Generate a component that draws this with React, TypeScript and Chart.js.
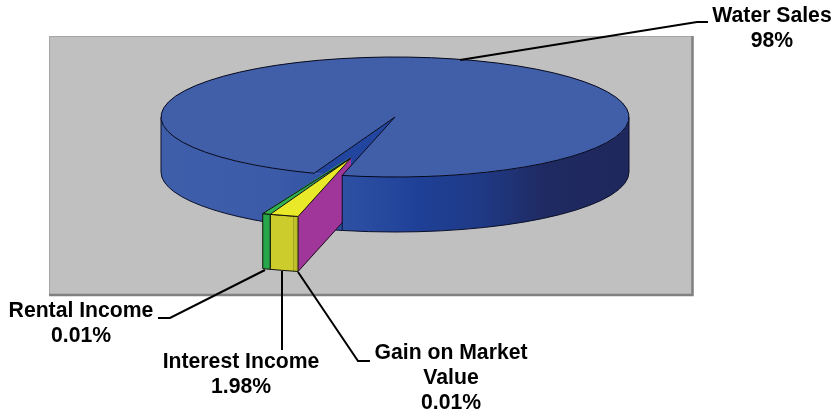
import React, { useEffect, useRef } from "react";
import { Chart, registerables } from "chart.js";

Chart.register(...registerables);

// Data (clockwise from the left edge of the exploded wedge)
const categories = ["Rental Income", "Water Sales", "Gain on Market Value", "Interest Income"];
const shares = [0.01, 98, 0.01, 1.98];
const topColors = ["#2fb24f", "#415fa9", "#a0359a", "#e9e92a"];
const sliceBorders = [1, 0, 2, 0];

// Callout text
const calloutLines = [
  { x: 772, y: 16, text: "Water Sales" },
  { x: 772, y: 41, text: "98%" },
  { x: 81, y: 311, text: "Rental Income" },
  { x: 81, y: 336, text: "0.01%" },
  { x: 241, y: 362, text: "Interest Income" },
  { x: 241, y: 387, text: "1.98%" },
  { x: 451, y: 353, text: "Gain on Market" },
  { x: 451, y: 378, text: "Value" },
  { x: 451, y: 403, text: "0.01%" },
];
const leaders = [
  [[460, 60], [697, 22], [708, 22]],
  [[265, 270], [170, 318], [158, 318]],
  [[282, 271], [282, 350]],
  [[298, 272], [358, 361], [370, 361]],
];

const ROTATION = 200.2;
const RADIUS = 234;
const SQUASH = 60 / 234;
const DEPTH = 55;
const EXPLODE_X = -44;
const EXPLODE_Y = 160;
const RENTAL_BAND = 8 / 234;
const DETACHED = [0, 2, 3];

const pie3d = {
  id: "pie3d",
  afterDatasetsUpdate(chart: any) {
    const data = chart.getDatasetMeta(0).data;
    DETACHED.forEach((i) => {
      data[i].x += EXPLODE_X;
      data[i].y += EXPLODE_Y;
    });
  },
  beforeDatasetsDraw(chart: any) {
    const ctx: CanvasRenderingContext2D = chart.ctx;
    const arcs = chart.getDatasetMeta(0).data;
    const [rental, water, gain, interest] = arcs;
    const cx = water.x;
    const cy = water.y;
    const rx = water.outerRadius;
    const ry = rx * SQUASH;
    const sy = (y: number) => cy + (y - cy) * SQUASH;
    const rim = (el: any, a: number) => ({
      x: el.x + el.outerRadius * Math.cos(a),
      y: sy(el.y + el.outerRadius * Math.sin(a)),
    });

    // Plot background
    ctx.save();
    ctx.fillStyle = "#c0c0c0";
    ctx.fillRect(49, 36, 644, 259);
    ctx.strokeStyle = "#a6a6a6";
    ctx.lineWidth = 1;
    ctx.beginPath();
    ctx.moveTo(49.5, 295);
    ctx.lineTo(49.5, 36.5);
    ctx.lineTo(693, 36.5);
    ctx.stroke();
    ctx.strokeStyle = "#808080";
    ctx.lineWidth = 2.5;
    ctx.beginPath();
    ctx.moveTo(692.5, 36);
    ctx.lineTo(692.5, 295);
    ctx.lineTo(49, 295);
    ctx.stroke();

    const grad = ctx.createLinearGradient(161, 0, 629, 0);
    grad.addColorStop(0, "#3f5eaa");
    grad.addColorStop(0.25, "#3b5aa8");
    grad.addColorStop(0.42, "#2b4ea2");
    grad.addColorStop(0.55, "#1f4097");
    grad.addColorStop(0.68, "#1f3a86");
    grad.addColorStop(0.82, "#1f2a62");
    grad.addColorStop(1, "#1f285c");

    const wall = (a1: number, a2: number, fill: any) => {
      ctx.beginPath();
      ctx.ellipse(cx, cy, rx, ry, 0, a1, a2);
      ctx.ellipse(cx, cy + DEPTH, rx, ry, 0, a2, a1, true);
      ctx.closePath();
      ctx.fillStyle = fill;
      ctx.fill();
      ctx.strokeStyle = "#0a0f2a";
      ctx.lineWidth = 1;
      ctx.beginPath();
      ctx.ellipse(cx, cy + DEPTH, rx, ry, 0, a1, a2);
      ctx.stroke();
    };

    const leftA = water.startAngle;
    const rightA = water.endAngle - Math.PI * 2;
    const pL = rim(water, leftA);
    const pR = rim(water, rightA);

    // Left part of the outer wall, also backing the gap (sits behind the wedge)
    wall(rightA, Math.PI, grad);

    // Gap in the pie (seen as the darker wedge)
    ctx.fillStyle = "#22469f";
    ctx.beginPath();
    ctx.moveTo(cx, cy);
    ctx.lineTo(pL.x, pL.y);
    ctx.lineTo(pR.x, pR.y);
    ctx.closePath();
    ctx.fill();
    ctx.beginPath();
    ctx.moveTo(cx, cy);
    ctx.lineTo(pR.x, pR.y);
    ctx.lineTo(pR.x, pR.y + DEPTH);
    ctx.lineTo(cx, cy + DEPTH);
    ctx.closePath();
    ctx.fill();

    // Exploded wedge: magenta cut face
    const tipX = gain.x;
    const tipY = sy(gain.y);
    const g = rim(gain, gain.endAngle);
    ctx.fillStyle = "#a0359a";
    ctx.strokeStyle = "#1a0a1a";
    ctx.lineWidth = 1;
    ctx.beginPath();
    ctx.moveTo(tipX, tipY);
    ctx.lineTo(g.x, g.y);
    ctx.lineTo(g.x, g.y + DEPTH);
    ctx.lineTo(tipX, tipY + DEPTH);
    ctx.closePath();
    ctx.fill();
    ctx.beginPath();
    ctx.moveTo(g.x, g.y + DEPTH);
    ctx.lineTo(tipX, tipY + DEPTH);
    ctx.stroke();

    // Exploded wedge: front faces
    const front = (el: any, a1: number, a2: number, fill: any) => {
      ctx.beginPath();
      ctx.ellipse(el.x, sy(el.y), rx, ry, 0, a1, a2);
      ctx.ellipse(el.x, sy(el.y) + DEPTH, rx, ry, 0, a2, a1, true);
      ctx.closePath();
      ctx.fillStyle = fill;
      ctx.fill();
      ctx.strokeStyle = "#14140a";
      ctx.lineWidth = 1;
      ctx.stroke();
    };
    const yr = rim(interest, interest.startAngle);
    const yl = rim(interest, interest.endAngle);
    const yGrad = ctx.createLinearGradient(yl.x, 0, yr.x, 0);
    yGrad.addColorStop(0, "#cccc2c");
    yGrad.addColorStop(0.8, "#cccc2c");
    yGrad.addColorStop(0.82, "#8f8f20");
    yGrad.addColorStop(0.86, "#c4c42a");
    yGrad.addColorStop(1, "#b4b428");
    front(interest, interest.startAngle, interest.endAngle, yGrad);
    front(rental, rental.startAngle, rental.startAngle + RENTAL_BAND, "#27a74a");

    // Green top strip of the rental slice
    const rA = rim(rental, rental.startAngle);
    const rB = rim(rental, rental.startAngle + RENTAL_BAND);
    ctx.fillStyle = topColors[0];
    ctx.beginPath();
    ctx.moveTo(rental.x - 1, sy(rental.y) - 1);
    ctx.lineTo(rA.x, rA.y);
    ctx.lineTo(rB.x, rB.y);
    ctx.closePath();
    ctx.fill();

    // Right part of the outer wall (in front of the wedge's inner end)
    wall(0, rightA, grad);
    ctx.strokeStyle = "#0a0f2a";
    ctx.lineWidth = 1;
    ctx.beginPath();
    ctx.moveTo(cx + rx, cy);
    ctx.lineTo(cx + rx, cy + DEPTH);
    ctx.moveTo(cx - rx, cy);
    ctx.lineTo(cx - rx, cy + DEPTH);
    ctx.moveTo(pR.x, pR.y);
    ctx.lineTo(pR.x, pR.y + DEPTH);
    ctx.stroke();
    ctx.restore();

    // Library arcs are squashed into the tilted plane
    ctx.save();
    ctx.translate(0, cy);
    ctx.scale(1, SQUASH);
    ctx.translate(0, -cy);
  },
  afterDatasetsDraw(chart: any) {
    const ctx: CanvasRenderingContext2D = chart.ctx;
    ctx.restore();
    const arcs = chart.getDatasetMeta(0).data;
    const [rental, water, , interest] = arcs;
    const cx = water.x;
    const cy = water.y;
    const rx = water.outerRadius;
    const ry = rx * SQUASH;
    const sy = (y: number) => cy + (y - cy) * SQUASH;

    ctx.save();
    ctx.lineWidth = 1;
    ctx.strokeStyle = "#05081c";
    // Water top outline
    ctx.beginPath();
    ctx.ellipse(cx, cy, rx, ry, 0, water.startAngle, water.endAngle);
    ctx.lineTo(cx, cy);
    ctx.closePath();
    ctx.stroke();
    // Wedge top outline
    const edge = (el: any, a: number) => ({
      x: el.x + rx * Math.cos(a),
      y: sy(el.y) + ry * Math.sin(a),
    });
    const a = edge(rental, rental.startAngle + RENTAL_BAND);
    const b = edge(interest, interest.endAngle);
    const c = edge(interest, interest.startAngle);
    ctx.strokeStyle = "#14140a";
    ctx.beginPath();
    ctx.moveTo(rental.x, sy(rental.y));
    ctx.lineTo(a.x, a.y);
    ctx.lineTo(b.x, b.y);
    ctx.lineTo(c.x, c.y);
    ctx.lineTo(interest.x, sy(interest.y));
    ctx.closePath();
    ctx.moveTo(b.x, b.y);
    ctx.lineTo(interest.x, sy(interest.y));
    ctx.stroke();

    // Leader lines
    ctx.strokeStyle = "#000";
    ctx.lineWidth = 2;
    leaders.forEach((pts) => {
      ctx.beginPath();
      pts.forEach(([x, y], i) => (i ? ctx.lineTo(x, y) : ctx.moveTo(x, y)));
      ctx.stroke();
    });

    // Callout text
    ctx.fillStyle = "#000";
    ctx.font = 'bold 21.2px "Liberation Sans", Arial, sans-serif';
    ctx.textAlign = "center";
    ctx.textBaseline = "middle";
    calloutLines.forEach((l) => ctx.fillText(l.text, l.x, l.y));
    ctx.restore();
  },
};

export default function App() {
  const ref = useRef<HTMLCanvasElement>(null);
  useEffect(() => {
    const chart = new Chart(ref.current as HTMLCanvasElement, {
      type: "pie",
      data: {
        labels: categories,
        datasets: [
          {
            data: shares,
            backgroundColor: topColors,
            borderColor: topColors,
            borderWidth: sliceBorders,
          },
        ],
      },
      options: {
        responsive: false,
        animation: false,
        events: [],
        rotation: ROTATION,
        radius: RADIUS,
        layout: { padding: { left: 0, right: 44, top: 0, bottom: 177 } },
        plugins: { legend: { display: false }, tooltip: { enabled: false } },
      } as any,
      plugins: [pie3d],
    });
    return () => chart.destroy();
  }, []);
  return (
    <div style={{ position: "fixed", left: 0, top: 0, width: 834, height: 411, background: "#fff" }}>
      <canvas ref={ref} width={834} height={411} style={{ display: "block" }} />
    </div>
  );
}
